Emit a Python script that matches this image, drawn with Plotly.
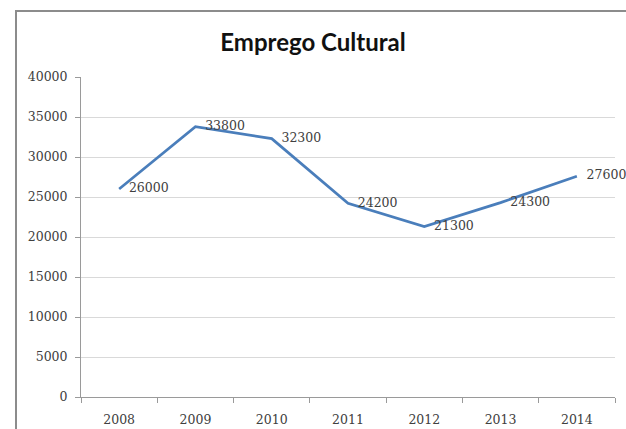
import plotly.graph_objects as go

years = ["2008", "2009", "2010", "2011", "2012", "2013", "2014"]
emprego = [26000, 33800, 32300, 24200, 21300, 24300, 27600]
y_ticks = [0, 5000, 10000, 15000, 20000, 25000, 30000, 35000, 40000]
labels = [str(v) for v in emprego]

W, H = 626, 429
L, R, T, B = 81, 11, 77, 32
pw, ph = W - L - R, H - T - B

fig = go.Figure()
fig.add_trace(go.Scatter(
    x=years, y=emprego, mode="lines+markers+text",
    line=dict(color="#4A7EBB", width=2.7),
    marker=dict(size=14, color="rgba(0,0,0,0)", line=dict(width=0)),
    text=labels, textposition="middle right",
    textfont=dict(family="DejaVu Serif", size=12.5, color="#404040"),
    cliponaxis=False,
    hoverinfo="x+y", showlegend=False,
))

# outer chart frame (Excel-style border)
fig.add_shape(type="rect", xref="paper", yref="paper",
              x0=(16 - L) / pw, x1=(W + 20 - L) / pw,
              y0=(H - B - (H + 20)) / ph, y1=(H - B - 11) / ph,
              line=dict(color="#8c8c8c", width=2), fillcolor="rgba(0,0,0,0)", layer="below")

fig.update_layout(
    width=W, height=H,
    margin=dict(l=L, r=R, t=T, b=B, autoexpand=False),
    paper_bgcolor="white", plot_bgcolor="white",
    title=dict(text="<b>Emprego Cultural</b>", x=313 / W, xref="container", xanchor="center",
               y=1 - 43 / H, yref="container", yanchor="middle",
               font=dict(family="Lato", size=24, color="#111111")),
    xaxis=dict(type="category", tickson="boundaries", ticks="outside", ticklen=5,
               tickcolor="#9a9a9a", showline=True, linecolor="#9a9a9a", linewidth=1,
               showgrid=False, ticklabelstandoff=11, automargin=False,
               tickfont=dict(family="DejaVu Serif", size=12.5, color="#404040"),
               range=[-0.5, 6.5]),
    yaxis=dict(range=[0, 40000], tickvals=y_ticks, ticktext=[str(t) for t in y_ticks],
               ticks="outside", ticklen=5, tickcolor="#9a9a9a",
               showline=True, linecolor="#9a9a9a", linewidth=1,
               showgrid=True, gridcolor="#d9d9d9", gridwidth=1, zeroline=False,
               ticklabelstandoff=5, automargin=False,
               tickfont=dict(family="DejaVu Serif", size=12.5, color="#404040")),
)

fig.write_html("out.html", config={"displayModeBar": False},
               post_script="document.body.style.margin='0';document.body.style.overflow='hidden';")
